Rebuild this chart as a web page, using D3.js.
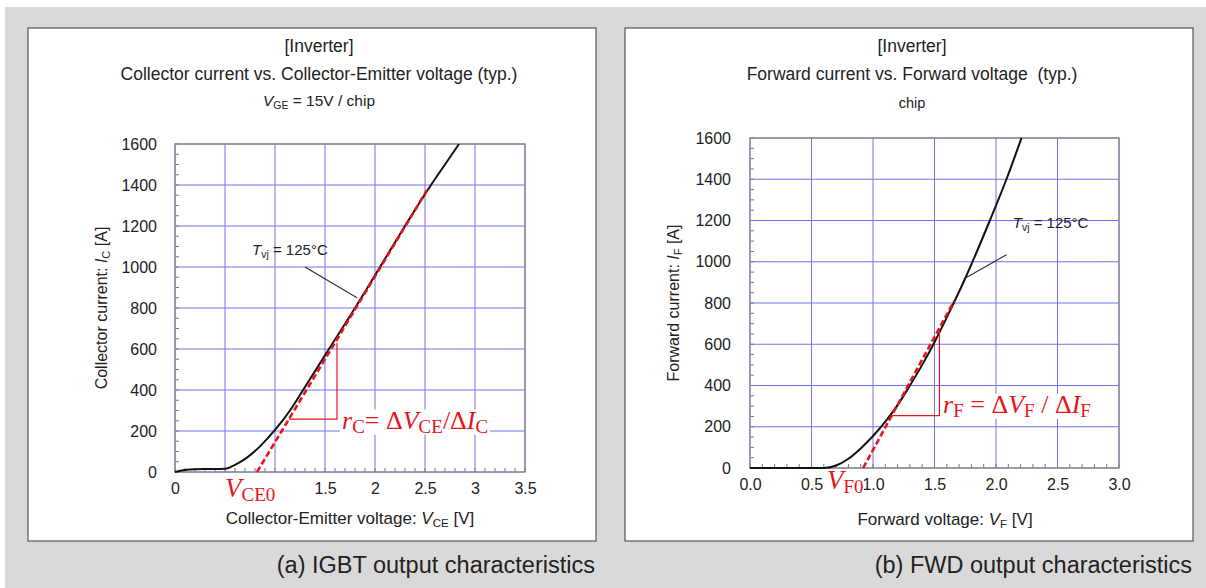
<!DOCTYPE html>
<html>
<head>
<meta charset="utf-8">
<script src="https://cdn.jsdelivr.net/npm/d3@7"></script>
<style>
  body { margin: 0; background: #fff; }
  svg text { font-family: "Liberation Sans", Arial, sans-serif; fill: #222; }
  .red { font-family: "Liberation Serif", "Times New Roman", serif; fill: #e8141b; }
</style>
</head>
<body>
<svg id="chart" width="1206" height="588"></svg>
<script>
// IGBT (left) data
const igbtVce = [0, 0.1, 0.2, 0.3, 0.4, 0.5, 0.6, 0.72, 0.85, 1.0, 1.15, 1.3, 1.54, 1.80, 2.05, 2.30, 2.56, 2.70, 2.84];
const igbtIc  = [0, 10, 14, 15, 15, 16, 35, 70, 125, 205, 300, 415, 600, 800, 1000, 1200, 1400, 1500, 1600];
const igbtTangentV = [0.82, 2.52];
const igbtTangentI = [0, 1375];
const igbtTriangleV = [1.14, 1.62];
const igbtTriangleI = [258, 630];
const igbtXTicks = [0, 0.5, 1, 1.5, 2, 2.5, 3, 3.5];
// 0.5 and 1 are hidden under the V_CE0 label in the original
const igbtXTickLabels = ["0", "", "", "1.5", "2", "2.5", "3", "3.5"];

// FWD (right) data
const fwdVf = [0, 0.3, 0.6, 0.7, 0.8, 0.9, 1.0, 1.1, 1.2, 1.3, 1.4, 1.5, 1.6, 1.75, 1.95, 2.085, 2.207];
const fwdIf = [0, 0, 0, 12, 45, 95, 155, 225, 305, 400, 500, 610, 730, 920, 1200, 1400, 1600];
const fwdTangentV = [0.92, 1.66];
const fwdTangentI = [0, 810];
const fwdTriangleV = [1.15, 1.54];
const fwdTriangleI = [254, 675];
const fwdXTicks = [0, 0.5, 1, 1.5, 2, 2.5, 3];
const fwdXTickLabels = ["0.0", "0.5", "1.0", "1.5", "2.0", "2.5", "3.0"];

const yTicks = [0, 200, 400, 600, 800, 1000, 1200, 1400, 1600];

const svg = d3.select("#chart");

// gray page background
svg.append("rect").attr("x", 5).attr("y", 7).attr("width", 1201).attr("height", 581).attr("fill", "#d9d9d9");

function sub(t, parts) {
    // parts: [text, italic, subSize, shift]
    parts.forEach(p => {
        const ts = t.append("tspan").text(p[0]);
        if (p[1]) ts.attr("font-style", "italic");
        if (p[2]) ts.attr("font-size", p[2]).attr("baseline-shift", p[3] || "-20%");
    });
}

function drawPanel(cfg) {
    const g = svg.append("g");
    g.append("rect")
        .attr("x", cfg.box[0]).attr("y", cfg.box[1])
        .attr("width", cfg.box[2]).attr("height", cfg.box[3])
        .attr("fill", "#fff").attr("stroke", "#555").attr("stroke-width", 1.2);

    // titles
    cfg.titles.forEach((t, i) => {
        const tx = g.append("text").attr("x", cfg.titleX).attr("y", cfg.titleY[i])
            .attr("text-anchor", "middle").attr("font-size", i === 2 ? cfg.subSize : 17.5)
            .style("white-space", "pre");
        if (Array.isArray(t)) sub(tx, t); else tx.text(t);
    });

    const p = g.append("g").attr("transform", `translate(${cfg.left},${cfg.top})`);
    const x = d3.scaleLinear().domain(cfg.xDomain).range([0, cfg.w]);
    const y = d3.scaleLinear().domain([0, 1600]).range([cfg.h, 0]);

    // grid
    p.append("g").selectAll("line").data(cfg.xTicks).join("line")
        .attr("x1", d => x(d)).attr("x2", d => x(d)).attr("y1", 0).attr("y2", cfg.h)
        .attr("stroke", "#7272e6").attr("stroke-width", 1);
    p.append("g").selectAll("line").data(yTicks).join("line")
        .attr("x1", 0).attr("x2", cfg.w).attr("y1", d => y(d)).attr("y2", d => y(d))
        .attr("stroke", "#7272e6").attr("stroke-width", 1);

    // minor ticks
    p.append("g").selectAll("line").data(d3.range(0, 1601, 50)).join("line")
        .attr("x1", 0).attr("x2", 4).attr("y1", d => y(d)).attr("y2", d => y(d))
        .attr("stroke", "#777");
    p.append("g").selectAll("line").data(d3.range(0, Math.round(cfg.xDomain[1] * 10) + 1).map(d => d / 10)).join("line")
        .attr("x1", d => x(d)).attr("x2", d => x(d)).attr("y1", cfg.h).attr("y2", cfg.h - 4)
        .attr("stroke", "#777");

    // frame
    p.append("rect").attr("width", cfg.w).attr("height", cfg.h)
        .attr("fill", "none").attr("stroke", "#8a8a8a").attr("stroke-width", 1.3);

    // axes (labels only)
    const xAxis = d3.axisBottom(x).tickValues(cfg.xTicks).tickSize(0).tickPadding(11)
        .tickFormat((d, i) => cfg.xLabels[i]);
    const yAxis = d3.axisLeft(y).tickValues(yTicks).tickSize(0).tickPadding(cfg.yPad)
        .tickFormat(d => String(d));
    const gx = p.append("g").attr("transform", `translate(0,${cfg.h})`).call(xAxis);
    const gy = p.append("g").call(yAxis);
    [gx, gy].forEach(a => {
        a.select(".domain").remove();
        a.selectAll("text").attr("font-size", 16).attr("fill", "#222")
            .attr("font-family", '"Liberation Sans", Arial, sans-serif');
    });

    // axis titles
    const xl = p.append("text").attr("x", cfg.xLabelX).attr("y", cfg.h + cfg.xLabelDy)
        .attr("text-anchor", "middle").attr("font-size", 17);
    sub(xl, cfg.xLabel);
    const yl = p.append("text").attr("transform", `translate(${cfg.yLabelX},${cfg.h / 2}) rotate(-90)`)
        .attr("text-anchor", "middle").attr("font-size", 16);
    sub(yl, cfg.yLabel);

    // curve
    const pts = cfg.cx.map((v, i) => [v, cfg.cy[i]]);
    p.append("path").datum(pts)
        .attr("fill", "none").attr("stroke", "#111").attr("stroke-width", 2)
        .attr("d", d3.line().curve(d3.curveMonotoneX).x(d => x(d[0])).y(d => y(d[1])));

    // tangent
    p.append("line")
        .attr("x1", x(cfg.tv[0])).attr("y1", y(cfg.ti[0]))
        .attr("x2", x(cfg.tv[1])).attr("y2", y(cfg.ti[1]))
        .attr("stroke", "#e8141b").attr("stroke-width", 2.6).attr("stroke-dasharray", "6,3");

    // triangle
    p.append("path")
        .attr("d", d3.line()([[x(cfg.rv[0]), y(cfg.ri[0])], [x(cfg.rv[1]), y(cfg.ri[0])], [x(cfg.rv[1]), y(cfg.ri[1])]]))
        .attr("fill", "none").attr("stroke", "#e8141b").attr("stroke-width", 1.2);

    // Tvj annotation
    p.append("line")
        .attr("x1", x(cfg.lead[0])).attr("y1", y(cfg.lead[1]))
        .attr("x2", x(cfg.lead[2])).attr("y2", y(cfg.lead[3]))
        .attr("stroke", "#333").attr("stroke-width", 1.2);
    const tv = p.append("text").attr("x", x(cfg.tvjPos[0])).attr("y", y(cfg.tvjPos[1])).attr("font-size", 15);
    sub(tv, [["T", true], ["vj", false, 10.5, "-25%"], [" = 125°C", false]]);

    // r label with white background
    const rl = p.append("text").attr("class", "red").attr("x", x(cfg.rLabel[0])).attr("y", y(cfg.rLabel[1]))
        .attr("font-size", cfg.rSize).style("white-space", "pre");
    sub(rl, cfg.rText);
    const rb = rl.node().getBBox();
    p.insert("rect", () => rl.node()).attr("x", rb.x - 2).attr("y", rb.y + 4).attr("width", rb.width + 4).attr("height", rb.height - 6)
        .attr("fill", "#fff");

    // V0 label with white background
    const vl = p.append("text").attr("class", "red").attr("x", cfg.v0Pos[0]).attr("y", cfg.h + cfg.v0Pos[1])
        .attr("font-size", 27);
    sub(vl, cfg.v0Text);
    const vb = vl.node().getBBox();
    p.insert("rect", () => vl.node()).attr("x", vb.x).attr("y", vb.y + 5).attr("width", vb.width).attr("height", vb.height - 7)
        .attr("fill", "#fff");

    // caption
    svg.append("text").attr("x", cfg.box[0] + cfg.box[2] - 1).attr("y", 573).attr("text-anchor", "end")
        .attr("font-size", 23.5).attr("fill", "#222").text(cfg.caption);
}

drawPanel({
    box: [28, 28, 568, 513],
    titleX: 319, titleY: [52, 80, 106], subSize: 15.5,
    titles: ["[Inverter]", "Collector current vs. Collector-Emitter voltage (typ.)",
        [["V", true], ["GE", false, 10.5, "-25%"], [" = 15V / chip", false]]],
    left: 175, top: 144, w: 350, h: 328,
    xDomain: [0, 3.5], xTicks: igbtXTicks, xLabels: igbtXTickLabels, yPad: 18,
    xLabelX: 175, xLabelDy: 52,
    xLabel: [["Collector-Emitter voltage: ", false], ["V", true], ["CE", false, 11.5, "-25%"], [" [V]", false]],
    yLabelX: -68, yLabel: [["Collector current: ", false], ["I", true], ["C", false, 11, "-25%"], [" [A]", false]],
    cx: igbtVce, cy: igbtIc, tv: igbtTangentV, ti: igbtTangentI, rv: igbtTriangleV, ri: igbtTriangleI,
    lead: [1.30, 1000, 1.82, 850], tvjPos: [0.77, 1060],
    rLabel: [1.67, 212], rSize: 26,
    rText: [["r", true], ["C", false, 19, "-22%"], ["= Δ", false], ["V", true], ["CE", false, 19, "-22%"], ["/Δ", false], ["I", true], ["C", false, 19, "-22%"]],
    v0Pos: [50, 25],
    v0Text: [["V", true], ["CE0", false, 19, "-22%"]],
    caption: "(a) IGBT output characteristics"
});

drawPanel({
    box: [625, 28, 568, 513],
    titleX: 912, titleY: [52, 80, 108], subSize: 14.5,
    titles: ["[Inverter]", "Forward current vs. Forward voltage  (typ.)", "chip"],
    left: 750, top: 138, w: 369, h: 330,
    xDomain: [0, 3.0], xTicks: fwdXTicks, xLabels: fwdXTickLabels, yPad: 19,
    xLabelX: 195, xLabelDy: 57,
    xLabel: [["Forward voltage: ", false], ["V", true], ["F", false, 11.5, "-25%"], [" [V]", false]],
    yLabelX: -71, yLabel: [["Forward current: ", false], ["I", true], ["F", false, 11, "-25%"], [" [A]", false]],
    cx: fwdVf, cy: fwdIf, tv: fwdTangentV, ti: fwdTangentI, rv: fwdTriangleV, ri: fwdTriangleI,
    lead: [2.085, 1034, 1.738, 916], tvjPos: [2.136, 1165],
    rLabel: [1.57, 268], rSize: 26,
    rText: [["r", true], ["F", false, 19, "-22%"], [" = Δ", false], ["V", true], ["F", false, 19, "-22%"], [" / Δ", false], ["I", true], ["F", false, 19, "-22%"]],
    v0Pos: [77, 21],
    v0Text: [["V", true], ["F0", false, 19, "-22%"]],
    caption: "(b) FWD output characteristics"
});
</script>
</body>
</html>
